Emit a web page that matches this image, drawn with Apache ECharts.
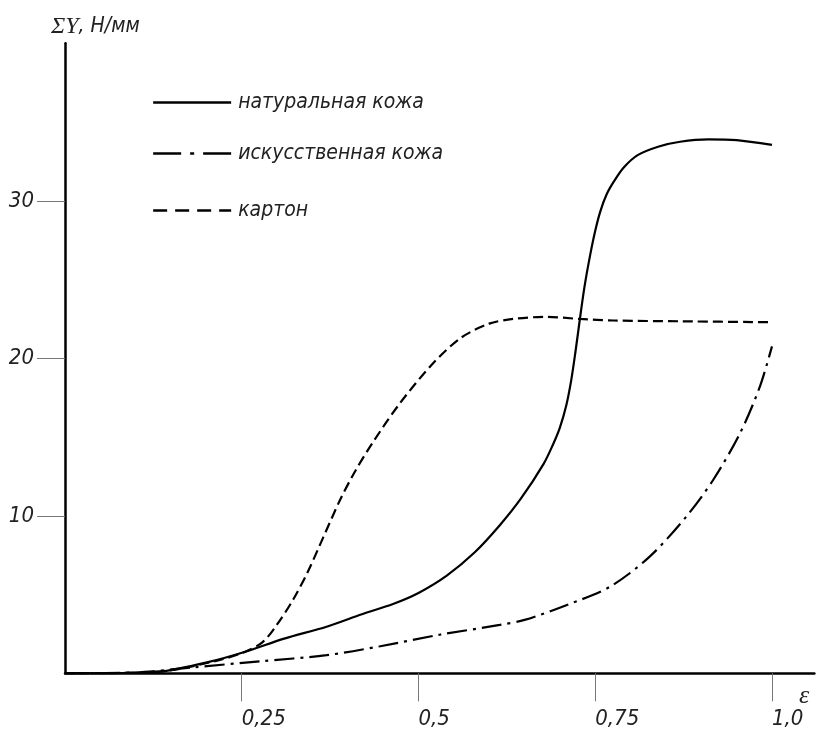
<!DOCTYPE html>
<html>
<head>
<meta charset="utf-8">
<script src="https://cdn.jsdelivr.net/npm/echarts@6/dist/echarts.min.js"></script>
<style>
html,body{margin:0;padding:0;background:#fff;}
#chart{width:817px;height:736px;}
</style>
</head>
<body>
<div id="chart"></div>
<script>
// ---- data ----
var seriesNames = ['натуральная кожа', 'искусственная кожа', 'картон'];

var naturalX = [0, 0.08, 0.134, 0.205, 0.255, 0.31, 0.37, 0.42, 0.464, 0.5, 0.54, 0.58, 0.615, 0.645, 0.677, 0.69, 0.70, 0.709, 0.716, 0.722, 0.728, 0.735, 0.743, 0.75, 0.757, 0.766, 0.776, 0.79, 0.81, 0.84, 0.87, 0.91, 0.95, 1.0];
var naturalY = [0, 0.02, 0.1, 0.74, 1.37, 2.2, 2.96, 3.75, 4.4, 5.1, 6.2, 7.7, 9.4, 11.1, 13.3, 14.5, 15.6, 17.0, 18.6, 20.4, 22.4, 24.6, 26.6, 28.1, 29.3, 30.4, 31.2, 32.1, 32.9, 33.45, 33.75, 33.9, 33.85, 33.55];

var artificialX = [0, 0.1, 0.181, 0.276, 0.37, 0.446, 0.53, 0.615, 0.65, 0.71, 0.771, 0.827, 0.879, 0.917, 0.955, 0.983, 1.0];
var artificialY = [0, 0.05, 0.38, 0.76, 1.15, 1.72, 2.45, 3.07, 3.39, 4.34, 5.5, 7.41, 9.96, 12.29, 15.26, 18.22, 20.76];

var cardboardX = [0, 0.08, 0.15, 0.219, 0.255, 0.28, 0.30, 0.323, 0.344, 0.365, 0.389, 0.41, 0.436, 0.474, 0.521, 0.56, 0.6, 0.634, 0.681, 0.728, 0.776, 0.87, 1.0];
var cardboardY = [0, 0.02, 0.2, 0.85, 1.37, 2.0, 3.1, 4.7, 6.5, 8.6, 11.0, 12.8, 14.7, 17.16, 19.7, 21.3, 22.2, 22.5, 22.63, 22.5, 22.4, 22.35, 22.29];

var xTickValues = [0.25, 0.5, 0.75, 1.0];
var xTickLabels = ['0,25', '0,5', '0,75', '1,0'];
var yTickValues = [10, 20, 30];
var yTickLabels = ['10', '20', '30'];

// ---- chart ----
function pairs(xs, ys) { return xs.map(function (x, i) { return [x, ys[i]]; }); }

var FONT = "'Liberation Sans Narrow', 'DejaVu Sans Condensed', sans-serif";
var SERIF = "'Liberation Serif', 'DejaVu Serif', serif";
var TXT = '#222';

var chart = echarts.init(document.getElementById('chart'), null, {renderer: 'canvas'});

function legendAt(name, top, lineStyle) {
  return {
    left: 147, top: top, orient: 'horizontal',
    itemWidth: 78, itemHeight: 14,
    data: [{name: name}],
    lineStyle: lineStyle,
    itemStyle: {color: 'rgba(0,0,0,0)', borderWidth: 0, opacity: 0},
    selectedMode: false,
    textStyle: {fontFamily: FONT, fontStyle: 'italic', fontSize: 21, color: TXT, lineHeight: 26, padding: [0, 0, 5, 2]}
  };
}

var option = {
  animation: false,
  backgroundColor: '#fff',
  title: [
    {
      left: 46, top: 10,
      text: '{a|ΣY}{b|, Н/мм}',
      textStyle: {
        fontWeight: 'normal',
        rich: {
          a: {fontFamily: SERIF, fontSize: 24, color: TXT, fontStyle: 'italic', fontWeight: 'normal'},
          b: {fontFamily: FONT, fontSize: 21, color: TXT, fontStyle: 'italic', fontWeight: 'normal'}
        }
      }
    },
    {
      left: 794, top: 678,
      text: 'ε',
      textStyle: {fontFamily: SERIF, fontSize: 26, fontWeight: 'normal', fontStyle: 'italic', color: TXT}
    }
  ],
  legend: [
    legendAt(seriesNames[0], 82, {type: 'solid', width: 2.3, color: '#000'}),
    legendAt(seriesNames[1], 133, {type: [28, 9, 4, 9], width: 2.3, color: '#000'}),
    legendAt(seriesNames[2], 190, {type: [14, 8], width: 2.3, color: '#000'})
  ],
  grid: {left: 65, right: 2.6, top: 43.3, bottom: 62.7, containLabel: false},
  xAxis: {
    type: 'value', min: 0, max: 1.06,
    axisLine: {show: true, onZero: false, lineStyle: {color: '#000', width: 2.5}},
    axisTick: {show: true, length: 28, customValues: xTickValues, lineStyle: {color: '#777', width: 1}},
    axisLabel: {
      show: true, customValues: xTickValues, margin: 35, align: 'left',
      fontFamily: FONT, fontStyle: 'italic', fontSize: 22, color: TXT,
      formatter: function (v) {
        for (var i = 0; i < xTickValues.length; i++) if (Math.abs(v - xTickValues[i]) < 1e-9) return xTickLabels[i];
        return '';
      }
    },
    splitLine: {show: false}
  },
  yAxis: {
    type: 'value', min: 0, max: 40,
    axisLine: {show: true, onZero: false, lineStyle: {color: '#000', width: 2.5}},
    axisTick: {show: true, length: 28, customValues: yTickValues, lineStyle: {color: '#777', width: 1}},
    axisLabel: {
      show: true, customValues: yTickValues, margin: 31,
      fontFamily: FONT, fontStyle: 'italic', fontSize: 22, color: TXT,
      formatter: function (v) {
        for (var i = 0; i < yTickValues.length; i++) if (Math.abs(v - yTickValues[i]) < 1e-9) return yTickLabels[i];
        return '';
      }
    },
    splitLine: {show: false}
  },
  series: [
    {
      name: seriesNames[0], type: 'line', smooth: 0.3, symbol: 'none', showSymbol: false,
      data: pairs(naturalX, naturalY),
      lineStyle: {color: '#000', width: 2.2, type: 'solid'}, itemStyle: {color: '#000'}
    },
    {
      name: seriesNames[1], type: 'line', smooth: 0.3, symbol: 'none', showSymbol: false,
      data: pairs(artificialX, artificialY),
      lineStyle: {color: '#000', width: 2.2, type: [20, 6, 3, 6]}, itemStyle: {color: '#000'}
    },
    {
      name: seriesNames[2], type: 'line', smooth: 0.3, symbol: 'none', showSymbol: false,
      data: pairs(cardboardX, cardboardY),
      lineStyle: {color: '#000', width: 2.2, type: [10, 5]}, itemStyle: {color: '#000'}
    }
  ]
};
chart.setOption(option);
</script>
</body>
</html>
